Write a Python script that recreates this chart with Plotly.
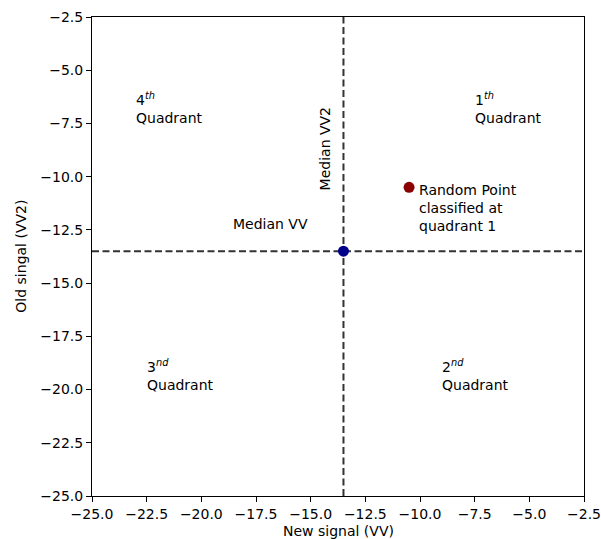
import plotly.graph_objects as go

# Data
median_vv = -13.5
median_vv2 = -13.5
point_x = [-10.5]
point_y = [-10.5]
tick_vals = [-25.0, -22.5, -20.0, -17.5, -15.0, -12.5, -10.0, -7.5, -5.0, -2.5]
tick_text = ["\u2212%.1f" % abs(v) for v in tick_vals]
quad_labels = ["1<sup><i>th</i></sup><br>Quadrant", "2<sup><i>nd</i></sup><br>Quadrant",
               "3<sup><i>nd</i></sup><br>Quadrant", "4<sup><i>th</i></sup><br>Quadrant"]
quad_x = [-7.5, -9.0, -22.5, -23.0]
quad_y = [-7.5, -20.0, -20.0, -7.5]

FONT = "DejaVu Sans"
FS = 14
fig = go.Figure()

# median lines
fig.add_trace(go.Scatter(x=[median_vv, median_vv], y=[-25, -2.5], mode="lines",
                         line=dict(color="#333333", width=2, dash="7px,3.5px"),
                         showlegend=False, hoverinfo="skip"))
fig.add_trace(go.Scatter(x=[-25, -2.5], y=[median_vv2, median_vv2], mode="lines",
                         line=dict(color="#333333", width=2, dash="7px,3.5px"),
                         showlegend=False, hoverinfo="skip"))
# median point
fig.add_trace(go.Scatter(x=[median_vv], y=[median_vv2], mode="markers",
                         marker=dict(color="#00008b", size=11),
                         showlegend=False))
# random point
fig.add_trace(go.Scatter(x=point_x, y=point_y, mode="markers",
                         marker=dict(color="#8b0000", size=11),
                         showlegend=False))

annotations = []
for lab, qx, qy in zip(quad_labels, quad_x, quad_y):
    annotations.append(dict(x=qx, y=qy, text=lab, showarrow=False, xanchor="left",
                            yanchor="bottom", align="left", xshift=-2, yshift=-5,
                            font=dict(family=FONT, size=FS, color="black")))
annotations.append(dict(x=-18.5, y=-12.5, text="Median VV", showarrow=False,
                        xanchor="left", yanchor="bottom", xshift=-3, yshift=-4,
                        font=dict(family=FONT, size=FS, color="black")))
annotations.append(dict(x=-14.5, y=-10.5, text="Median VV2", showarrow=False,
                        xanchor="left", yanchor="bottom", textangle=-90,
                        xshift=-7, yshift=-5,
                        font=dict(family=FONT, size=FS, color="black")))
annotations.append(dict(x=-10.0, y=-12.5, text="Random Point<br>classified at<br>quadrant 1",
                        showarrow=False, xanchor="left", yanchor="bottom", align="left",
                        xshift=-3, yshift=-6,
                        font=dict(family=FONT, size=FS, color="black")))
# axis titles
annotations.append(dict(xref="paper", yref="paper", x=0.5, y=-0.073, text="New signal (VV)",
                        showarrow=False, xanchor="center", yanchor="middle",
                        font=dict(family=FONT, size=FS, color="black")))
annotations.append(dict(xref="paper", yref="paper", x=-0.146, y=0.5, text="Old singal (VV2)",
                        showarrow=False, xanchor="center", yanchor="middle", textangle=-90,
                        font=dict(family=FONT, size=FS, color="black")))

axis_common = dict(range=[-25, -2.5], tickvals=tick_vals, ticktext=tick_text,
                   showgrid=False, zeroline=False, showline=True, linecolor="black",
                   linewidth=1, mirror=True, ticks="outside", ticklen=5, tickwidth=1,
                   tickcolor="black", automargin=False,
                   tickfont=dict(family=FONT, size=FS, color="black"))

fig.update_layout(
    width=601, height=539,
    margin=dict(l=92, r=17, t=17, b=43),
    plot_bgcolor="white", paper_bgcolor="white",
    xaxis=dict(**axis_common),
    yaxis=dict(**axis_common),
    annotations=annotations,
    font=dict(family=FONT),
)

fig.write_html("out.html", config={"displayModeBar": False},
               post_script="document.body.style.margin='0';document.body.style.overflow='hidden';")
